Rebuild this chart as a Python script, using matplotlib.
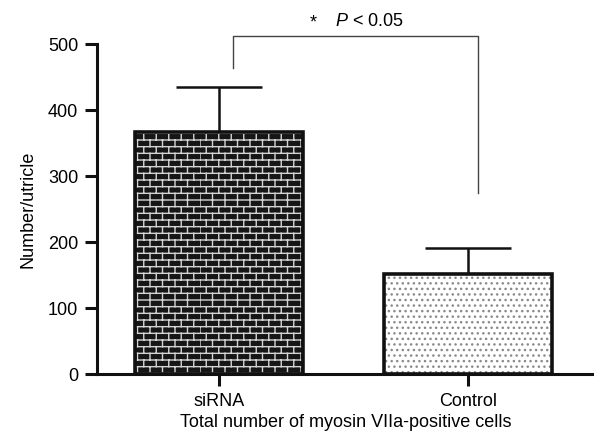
import warnings
import numpy as np
import matplotlib
matplotlib.use('Agg')
import matplotlib.pyplot as plt
from matplotlib import hatch as mhatch
from matplotlib.path import Path

warnings.filterwarnings('ignore')

groups = ['siRNA', 'Control']
means = [366, 152]
sems = [69, 39]
y_ticks = [0, 100, 200, 300, 400, 500]
x_title = 'Total number of myosin VIIa-positive cells'
y_title = 'Number/utricle'
sig_text = '$P$ < 0.05'
bracket_heights = [464, 512, 274]  # left leg end, top, right leg end


# brick pattern, not one of the built-in hatches
class BrickHatch(mhatch.HatchPatternBase):
    def __init__(self, hatch, density):
        n = hatch.count('b')
        self.rows = 15 * n
        self.cols = 8 * n
        if n == 0:
            self.num_vertices = 0
        else:
            self.num_vertices = (self.rows + 1) * 2 + self.rows * self.cols * 2

    def set_vertices_and_codes(self, vertices, codes):
        i = 0
        for k in range(self.rows + 1):
            y = k / self.rows
            vertices[i] = (0, y); vertices[i + 1] = (1, y)
            codes[i] = Path.MOVETO; codes[i + 1] = Path.LINETO
            i += 2
        for r in range(self.rows):
            shift = 0 if r % 2 == 0 else 0.5 / self.cols
            for j in range(self.cols):
                x = j / self.cols + shift
                vertices[i] = (x, r / self.rows); vertices[i + 1] = (x, (r + 1) / self.rows)
                codes[i] = Path.MOVETO; codes[i + 1] = Path.LINETO
                i += 2

mhatch._hatch_types.append(BrickHatch)

plt.rcParams['font.family'] = ['Liberation Sans', 'DejaVu Sans']
plt.rcParams['mathtext.fontset'] = 'custom'
plt.rcParams['mathtext.it'] = 'Liberation Sans:italic'
plt.rcParams['mathtext.rm'] = 'Liberation Sans'
plt.rcParams['hatch.linewidth'] = 1.0

fig = plt.figure(figsize=(5.94, 4.41), dpi=100)
ax = fig.add_axes([0.1633, 0.1519, 0.8367, 0.7483])

x = np.arange(len(groups))
w = 0.675

# error bars (upward only)
ax.errorbar(x, means, yerr=[np.zeros(len(sems)), sems], fmt='none', ecolor='#111111',
            elinewidth=1.8, capsize=31, capthick=1.8, zorder=1)

# fills with patterns
ax.bar(x[0], means[0], w, color='#161616', edgecolor='#d4d4d4', linewidth=0, hatch='b', zorder=2)
ax.bar(x[1], means[1], w, color='white', edgecolor='#8a8a8a', linewidth=0, hatch='...', zorder=2)
# outlines
ax.bar(x, means, w, color='none', edgecolor='#111111', linewidth=2.6, zorder=3)

# significance bracket
bx = [x[0] + 0.056, x[0] + 0.056, x[1] + 0.04, x[1] + 0.04]
by = [bracket_heights[0], bracket_heights[1], bracket_heights[1], bracket_heights[2]]
ax.plot(bx, by, color='#444444', lw=1.0, clip_on=False)
ax.text(0.378, 525, '*', ha='center', va='baseline', fontsize=13)
ax.text(0.466, 527, sig_text, ha='left', va='baseline', fontsize=13)

ax.set_xlim(-0.49, 1.506)
ax.set_ylim(0, 500)
ax.set_yticks(y_ticks)
ax.set_xticks(x)
ax.set_xticklabels(groups)

for s in ['top', 'right']:
    ax.spines[s].set_visible(False)
for s in ['left', 'bottom']:
    ax.spines[s].set_linewidth(2.2)
    ax.spines[s].set_color('#111111')

ax.tick_params(axis='both', direction='out', length=8.6, width=2.2, color='#111111',
               labelsize=13, pad=5)
ax.set_xlabel(x_title, fontsize=13, labelpad=3)
ax.set_ylabel(y_title, fontsize=13, labelpad=8)

fig.savefig('out.png', dpi=100)
